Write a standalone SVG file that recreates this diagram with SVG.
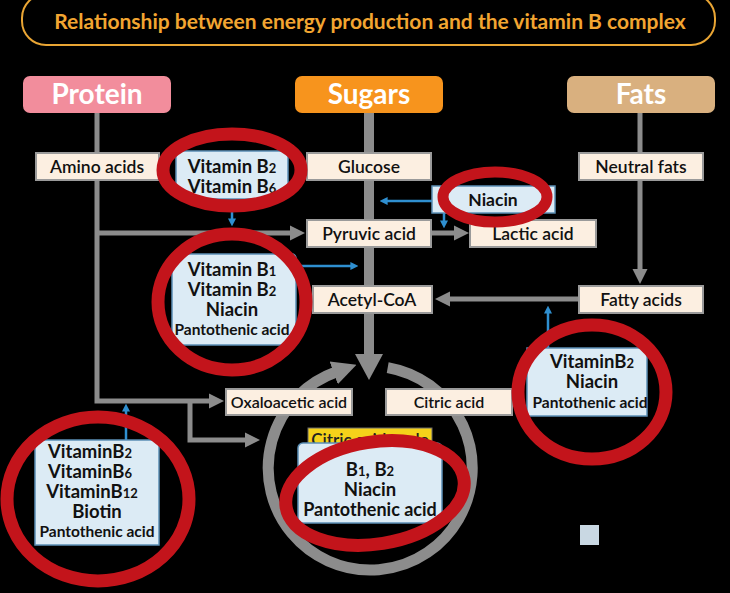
<svg xmlns="http://www.w3.org/2000/svg" width="730" height="593" viewBox="0 0 730 593">
<defs>
<style>
text{font-family:Lato,"Open Sans","Liberation Sans",sans-serif;text-anchor:middle}
.hdr{fill:#fff;font-size:28px;font-weight:bold}
.box{fill:#fcefe1;stroke:#9a9a9a;stroke-width:2}
.lbl{fill:#111;font-size:17.5px;font-weight:600}
.vbox{fill:#dcebf5;stroke:#5b8fb5;stroke-width:1.5}
.vt{fill:#111;font-size:18.5px;font-weight:bold}
.vs{font-size:15.5px}
.sub{font-size:13px}
.ring{fill:none;stroke:#c3141b;stroke-width:13}
.gl{fill:none;stroke:#8c8c8c;stroke-width:5}
.bl{fill:none;stroke:#2f8fd0;stroke-width:2.5}
</style>
<marker id="ga" viewBox="0 0 10 10" refX="2" refY="5" markerWidth="3" markerHeight="3.2" orient="auto"><path d="M0,0 L10,5 L0,10 z" fill="#8c8c8c"/></marker>
<marker id="ba" viewBox="0 0 10 10" refX="2" refY="5" markerWidth="3.2" markerHeight="3.2" orient="auto"><path d="M0,0 L10,5 L0,10 z" fill="#2f8fd0"/></marker>
<marker id="ca" viewBox="0 0 10 10" refX="1" refY="5" markerWidth="2.2" markerHeight="2.4" orient="auto"><path d="M0,0 L10,5 L0,10 z" fill="#8c8c8c"/></marker>
</defs>
<rect width="730" height="593" fill="#000"/>

<g id="title">
<rect x="22" y="-6" width="693" height="51" rx="24" fill="none" stroke="#e9a534" stroke-width="2"/>
<text x="370" y="29" style="fill:#f2a531;font-size:21px;font-weight:bold">Relationship between energy production and the vitamin B complex</text>
</g>

<g id="connectors">
<path class="gl" d="M97,113 V401 H212" marker-end="url(#ga)"/>
<path class="gl" d="M97,233 H293" marker-end="url(#ga)"/>
<path class="gl" d="M190,401 V440 H248" marker-end="url(#ga)"/>
<path d="M369,113 V356" fill="none" stroke="#8c8c8c" stroke-width="10"/>
<path d="M355,354 L383,354 L369,380 z" fill="#8c8c8c"/>
<path class="gl" d="M430,233 H457" marker-end="url(#ga)"/>
<path class="gl" d="M640,113 V272" marker-end="url(#ga)"/>
<path class="gl" d="M578,299 H447" marker-end="url(#ga)"/>
<path d="M387.7,367.6 A102,102 0 1 1 336,372" fill="none" stroke="#8c8c8c" stroke-width="11" marker-end="url(#ca)"/>
<path class="bl" d="M232,200 V220" marker-end="url(#ba)"/>
<path class="bl" d="M432,201 H386" marker-end="url(#ba)"/>
<path class="bl" d="M444,213 V222" marker-end="url(#ba)"/>
<path class="bl" d="M296,266 H352" marker-end="url(#ba)"/>
<path class="bl" d="M548,348 V312" marker-end="url(#ba)"/>
<path class="bl" d="M126,440 V410" marker-end="url(#ba)"/>
</g>

<g id="protein"><rect x="23" y="76" width="148" height="37" rx="7" fill="#f28d9c"/><text class="hdr" x="97" y="104">Protein</text></g>
<g id="sugars"><rect x="295" y="76" width="148" height="37" rx="7" fill="#f7941d"/><text class="hdr" x="369" y="104">Sugars</text></g>
<g id="fats"><rect x="567" y="76" width="148" height="37" rx="7" fill="#d9b07f"/><text class="hdr" x="641" y="104">Fats</text></g>

<g id="amino"><rect class="box" x="36" y="153" width="123" height="27"/><text class="lbl" x="97" y="173">Amino acids</text></g>
<g id="glucose"><rect class="box" x="307" y="153" width="124" height="27"/><text class="lbl" x="369" y="173">Glucose</text></g>
<g id="neutral"><rect class="box" x="579" y="153" width="124" height="27"/><text class="lbl" x="641" y="173">Neutral fats</text></g>
<g id="pyruvic"><rect class="box" x="307" y="220" width="124" height="27"/><text class="lbl" x="369" y="240">Pyruvic acid</text></g>
<g id="lactic"><rect class="box" x="470" y="220" width="126" height="27"/><text class="lbl" x="533" y="240">Lactic acid</text></g>
<g id="acetyl"><rect class="box" x="313" y="286" width="119" height="27"/><text class="lbl" x="372" y="306">Acetyl-CoA</text></g>
<g id="fatty"><rect class="box" x="579" y="286" width="124" height="27"/><text class="lbl" x="641" y="306">Fatty acids</text></g>
<g id="oxalo"><rect class="box" x="226" y="389" width="126" height="26"/><text class="lbl" x="289" y="408" style="font-size:16px">Oxaloacetic acid</text></g>
<g id="citric"><rect class="box" x="386" y="389" width="126" height="26"/><text class="lbl" x="449" y="408" style="font-size:16px">Citric acid</text></g>

<g id="vit-b2b6">
<rect class="vbox" x="176" y="151" width="112" height="48" rx="4"/>
<text class="vt" x="232" y="173">Vitamin B<tspan class="sub">2</tspan></text>
<text class="vt" x="232" y="193">Vitamin B<tspan class="sub">6</tspan></text>
<ellipse class="ring" cx="232" cy="170" rx="69" ry="36"/>
</g>

<g id="vit-niacin">
<rect class="vbox" x="432" y="186" width="123" height="27"/>
<text class="lbl" x="493" y="206" style="font-weight:bold">Niacin</text>
<ellipse class="ring" cx="495" cy="197" rx="52" ry="25" style="stroke-width:11"/>
</g>

<g id="vit-b1">
<rect class="vbox" x="172" y="254" width="124" height="91" rx="4"/>
<text class="vt" x="232" y="276">Vitamin B<tspan class="sub">1</tspan></text>
<text class="vt" x="232" y="296">Vitamin B<tspan class="sub">2</tspan></text>
<text class="vt" x="232" y="316">Niacin</text>
<text class="vt vs" x="232" y="335">Pantothenic acid</text>
<ellipse class="ring" cx="232" cy="302" rx="74" ry="68"/>
</g>

<g id="vit-fat">
<rect class="vbox" x="527" y="348" width="120" height="68"/>
<text class="vt" x="592" y="368">VitaminB<tspan class="sub">2</tspan></text>
<text class="vt" x="592" y="388">Niacin</text>
<text class="vt vs" x="590" y="408">Pantothenic acid</text>
<ellipse class="ring" cx="592" cy="392" rx="74" ry="67"/>
</g>

<g id="vit-protein">
<rect class="vbox" x="35" y="440" width="124" height="105"/>
<text class="vt" x="90" y="458">VitaminB<tspan class="sub">2</tspan></text>
<text class="vt" x="90" y="478">VitaminB<tspan class="sub">6</tspan></text>
<text class="vt" x="92" y="498">VitaminB<tspan class="sub">12</tspan></text>
<text class="vt" x="97" y="518">Biotin</text>
<text class="vt vs" x="97" y="537">Pantothenic acid</text>
<ellipse class="ring" cx="98" cy="499" rx="91" ry="82"/>
</g>

<g id="cycle">
<rect x="308" y="428" width="124" height="24" fill="#f5d21a" stroke="#6b6b6b" stroke-width="1"/>
<text x="370" y="446" style="fill:#222;font-size:17px;font-weight:600">Citric acid cycle</text>
<rect class="vbox" x="298" y="443" width="144" height="80" rx="5"/>
<text class="vt" x="370" y="476">B<tspan class="sub">1</tspan>, B<tspan class="sub">2</tspan></text>
<text class="vt" x="370" y="496">Niacin</text>
<text class="vt" x="370" y="516" style="font-size:18px">Pantothenic acid</text>
<ellipse class="ring" cx="375" cy="493" rx="90" ry="51" transform="rotate(-9 375 493)"/>
</g>

<g id="square"><rect x="580" y="525" width="19" height="20" fill="#c9d8e3"/></g>
</svg>
